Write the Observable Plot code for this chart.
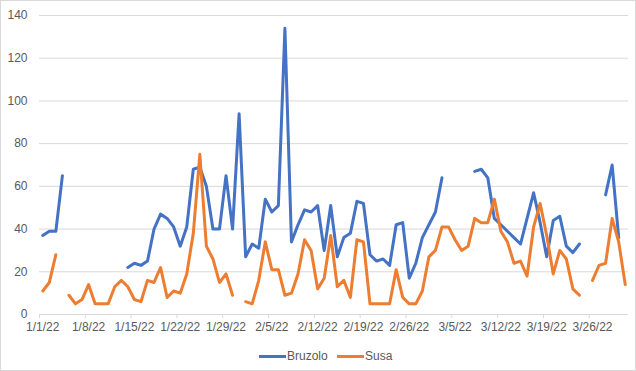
<!DOCTYPE html>
<html>
<head>
<meta charset="utf-8">
<script src="https://cdn.jsdelivr.net/npm/d3@7"></script>
<script src="https://cdn.jsdelivr.net/npm/@observablehq/plot@0.6"></script>
<style>
  body { margin: 0; background: #fff; }
  #chart { position: relative; width: 636px; height: 371px; background: #fff; font-family: "Liberation Sans", Arial, sans-serif; overflow: hidden; }
  #chart svg { position: absolute; left: 0; top: 0; }
  #frame { position: absolute; left: 0; top: 0; width: 636px; height: 371px; box-sizing: border-box; border: 1px solid #d9d9d9; pointer-events: none; }
  .item { position: absolute; top: 349px; height: 14px; display: flex; align-items: center; font-size: 12px; color: #595959; line-height: 14px; }
  .sw { width: 27px; height: 3px; margin-right: 1px; }
</style>
</head>
<body>
<div id="chart"></div>
<script>
const startDay = "2022-01-01";
const seriesNames = ["Bruzolo", "Susa"];
const seriesColors = ["#4472C4", "#ED7D31"];
const bruzolo = [
  37, 39, 39, 65, null, null, null, null, null, null,
  null, null, null, 22, 24, 23, 25, 40, 47, 45,
  41, 32, 41, 68, 69, 60, 40, 40, 65, 40,
  94, 27, 33, 31, 54, 48, 51, 134, 34, 42,
  49, 48, 51, 30, 51, 27, 36, 38, 53, 52,
  28, 25, 26, 23, 42, 43, 17, 24, 36, 42,
  48, 64, null, null, null, null, 67, 68, 64, 45,
  42, 39, 36, 33, 45, 57, 43, 27, 44, 46,
  32, 29, 33, null, null, null, 56, 70, 36, null
];
const susa = [
  11, 15, 28, null, 9, 5, 7, 14, 5, 5,
  5, 13, 16, 13, 7, 6, 16, 15, 22, 8,
  11, 10, 19, 38, 75, 32, 26, 15, 19, 9,
  null, 6, 5, 16, 34, 21, 21, 9, 10, 19,
  35, 30, 12, 17, 37, 13, 16, 8, 35, 34,
  5, 5, 5, 5, 21, 8, 5, 5, 11, 27,
  30, 41, 41, 35, 30, 32, 45, 43, 43, 54,
  39, 34, 24, 25, 18, 41, 52, 37, 19, 30,
  26, 12, 9, null, 16, 23, 24, 45, 34, 14
];
const xTickLabels = ["1/1/22", "1/8/22", "1/15/22", "1/22/22", "1/29/22", "2/5/22", "2/12/22",
  "2/19/22", "2/26/22", "3/5/22", "3/12/22", "3/19/22", "3/26/22"];
const yTicks = [0, 20, 40, 60, 80, 100, 120, 140];

const t0 = d3.utcParse("%Y-%m-%d")(startDay);
const parseTick = d3.utcParse("%m/%d/%y");
const rows = [];
[bruzolo, susa].forEach((vals, s) => {
  vals.forEach((v, i) => {
    rows.push({ series: seriesNames[s], date: d3.utcHour.offset(d3.utcDay.offset(t0, i), 12), value: v });
  });
});
const tickDates = xTickLabels.map(parseTick);
const labelDates = tickDates.map(d => d3.utcHour.offset(d, 12));
const labelMap = new Map(labelDates.map((d, i) => [+d, xTickLabels[i]]));
const xDomain = [t0, d3.utcDay.offset(t0, bruzolo.length)];

const plot = Plot.plot({
  width: 636,
  height: 340,
  marginLeft: 39,
  marginRight: 8,
  marginTop: 15,
  marginBottom: 26,
  style: { fontFamily: "'Liberation Sans', Arial, sans-serif", fontSize: "12px", color: "#595959", background: "transparent", overflow: "visible" },
  x: { type: "utc", domain: xDomain },
  y: { domain: [yTicks[0], yTicks[yTicks.length - 1]] },
  color: { domain: seriesNames, range: seriesColors },
  marks: [
    Plot.gridY(yTicks, { stroke: "#d9d9d9", strokeOpacity: 1, strokeWidth: 1 }),
    Plot.axisY(yTicks, { tickSize: 0, tickPadding: 12, label: null, fill: "#595959", fontSize: 12 }),
    Plot.axisX(tickDates, { tickSize: 4, tickFormat: () => "", label: null, stroke: "#d9d9d9", strokeOpacity: 1 }),
    Plot.axisX(labelDates, { tickSize: 0, tickPadding: 8, tickFormat: d => labelMap.get(+d), label: null, fill: "#595959", fontSize: 12 }),
    Plot.line(rows, { x: "date", y: "value", z: "series", stroke: "series", strokeWidth: 3, strokeLinejoin: "round", strokeLinecap: "round" })
  ]
});

const chart = document.getElementById("chart");
chart.appendChild(plot);

const legendPos = [259, 337];
seriesNames.forEach((name, i) => {
  const item = document.createElement("div");
  item.className = "item";
  item.style.left = legendPos[i] + "px";
  const sw = document.createElement("div");
  sw.className = "sw";
  sw.style.background = seriesColors[i];
  const tx = document.createElement("span");
  tx.textContent = name;
  item.appendChild(sw);
  item.appendChild(tx);
  chart.appendChild(item);
});
const frame = document.createElement("div");
frame.id = "frame";
chart.appendChild(frame);
</script>
</body>
</html>
